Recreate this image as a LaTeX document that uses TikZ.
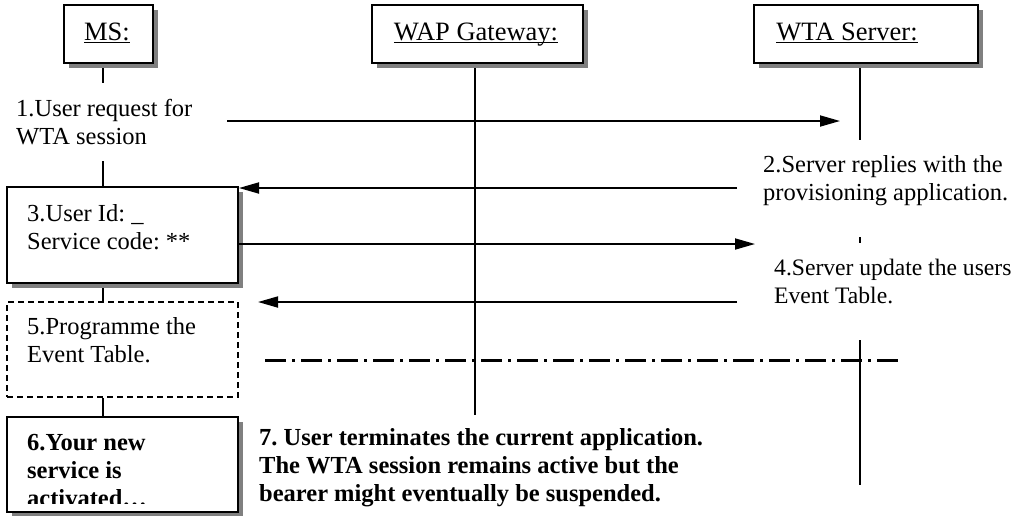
\documentclass[tikz,border=0pt]{standalone}
\usepackage{fontspec}
\setmainfont{Liberation Serif}
\usetikzlibrary{arrows.meta,shadows}
\definecolor{shadowgray}{HTML}{808080}
\newcommand{\myul}[1]{\setbox0\hbox{#1}\rlap{\rule[-3pt]{\wd0}{1.4pt}}\box0}
\frenchspacing
\begin{document}
\begin{tikzpicture}[x=1pt,y=-1pt,
  every node/.style={font=\fontsize{24.5}{27.8}\selectfont, inner sep=0pt},
  frame/.style={draw=black, line width=2pt, fill=white,
    general shadow={fill=shadowgray, shadow xshift=5pt, shadow yshift=-5pt}},
  dashframe/.style={draw=black, line width=1.6pt, dash pattern=on 6pt off 4pt, fill=white},
  life/.style={line width=1.8pt},
  msg/.style={line width=1.8pt, -{Triangle[length=20pt,width=11pt]}},
  headtxt/.style={anchor=base, font=\fontsize{26.5}{30}\selectfont},
  txt/.style={anchor=base west, align=left},
  boldtxt/.style={anchor=base west, align=left, font=\fontsize{24.5}{27.8}\selectfont\bfseries},
  dashdot/.style={line width=3pt, dash pattern=on 21pt off 6pt on 3pt off 6pt},
]
\useasboundingbox (0,0) rectangle (1016,515);

% header boxes
\node[frame, minimum width=89pt, minimum height=58pt] (ms) at (108.5,34) {};
\node[frame, minimum width=211pt, minimum height=58pt] (wap) at (477.5,34) {};
\node[frame, minimum width=224pt, minimum height=58pt] (wta) at (866,34) {};
\node[headtxt] (msl) at (107,40) {\myul{MS:}};
\node[headtxt] (wapl) at (476,40) {\myul{WAP Gateway:}};
\node[headtxt] (wtal) at (847,40) {\myul{WTA Server:}};

% MS activity boxes
\node[frame, minimum width=231pt, minimum height=96pt] (b3) at (122.5,235) {};
\node[dashframe, minimum width=231pt, minimum height=95pt] (b5) at (122.5,349.5) {};
\node[frame, minimum width=231pt, minimum height=95pt] (b6) at (122.5,464.5) {};

% lifeline coordinates
\coordinate (ms0) at (103,68);
\coordinate (ms1) at (103,83);
\coordinate (ms2) at (103,161);
\coordinate (ms3) at (103,288);
\coordinate (wap0) at (475,68);
\coordinate (wap1) at (475,415);
\coordinate (wta0) at (860,68);
\coordinate (wta1) at (860,140);
\coordinate (wta2) at (860,237);
\coordinate (wta3) at (860,243);
\coordinate (wta4) at (860,340);
\coordinate (wta5) at (860,485);

\draw[life] (ms0) -- (ms1);
\draw[life] (ms2) -- (ms2 |- b3.north);
\draw[life] (ms3) -- (ms3 |- b5.north);
\draw[life] (ms3 |- b5.south) -- (ms3 |- b6.north);
\draw[life] (wap0) -- (wap1);
\draw[life] (wta0) -- (wta1);
\draw[life] (wta2) -- (wta3);
\draw[life] (wta4) -- (wta5);

% messages
\coordinate (m1s) at (227,121);
\coordinate (m1e) at (840,121);
\coordinate (m2s) at (737,188);
\coordinate (m3e) at (755,244);
\coordinate (m4s) at (737,302);
\coordinate (m4e) at (258,302);
\draw[msg] (m1s) -- (m1e);
\draw[msg] (m2s) -- (m2s -| b3.east);
\draw[msg] (b3.east |- m3e) -- (m3e);
\draw[msg] (m4s) -- (m4e);

% separator
\coordinate (d1) at (265,360);
\coordinate (d2) at (898,360);
\draw[dashdot] (d1) -- (d2);

% texts (anchor = baseline of the last line)
\node[txt] (t1) at (16,144.5) {1.User request for\\WTA session};
\node[txt] (t2) at (763,200) {2.Server replies with the\\provisioning application.};
\node[txt] (t3) at (27,249) {3.User Id: \_\\Service code: **};
\node[txt, font=\fontsize{23.6}{27.8}\selectfont] (t4) at (774,303) {4.Server update the users\\Event Table.};
\node[txt] (t5) at (27,362) {5.Programme the\\Event Table.};
\begin{scope}
\clip (9,419) rectangle (236,503);
\node[boldtxt] (t6) at (27,506) {6.Your new\\service is\\activated…};
\end{scope}
\node[boldtxt] (t7) at (259,501) {7. User terminates the current application.\\The WTA session remains active but the\\bearer might eventually be suspended.};
\end{tikzpicture}
\end{document}
